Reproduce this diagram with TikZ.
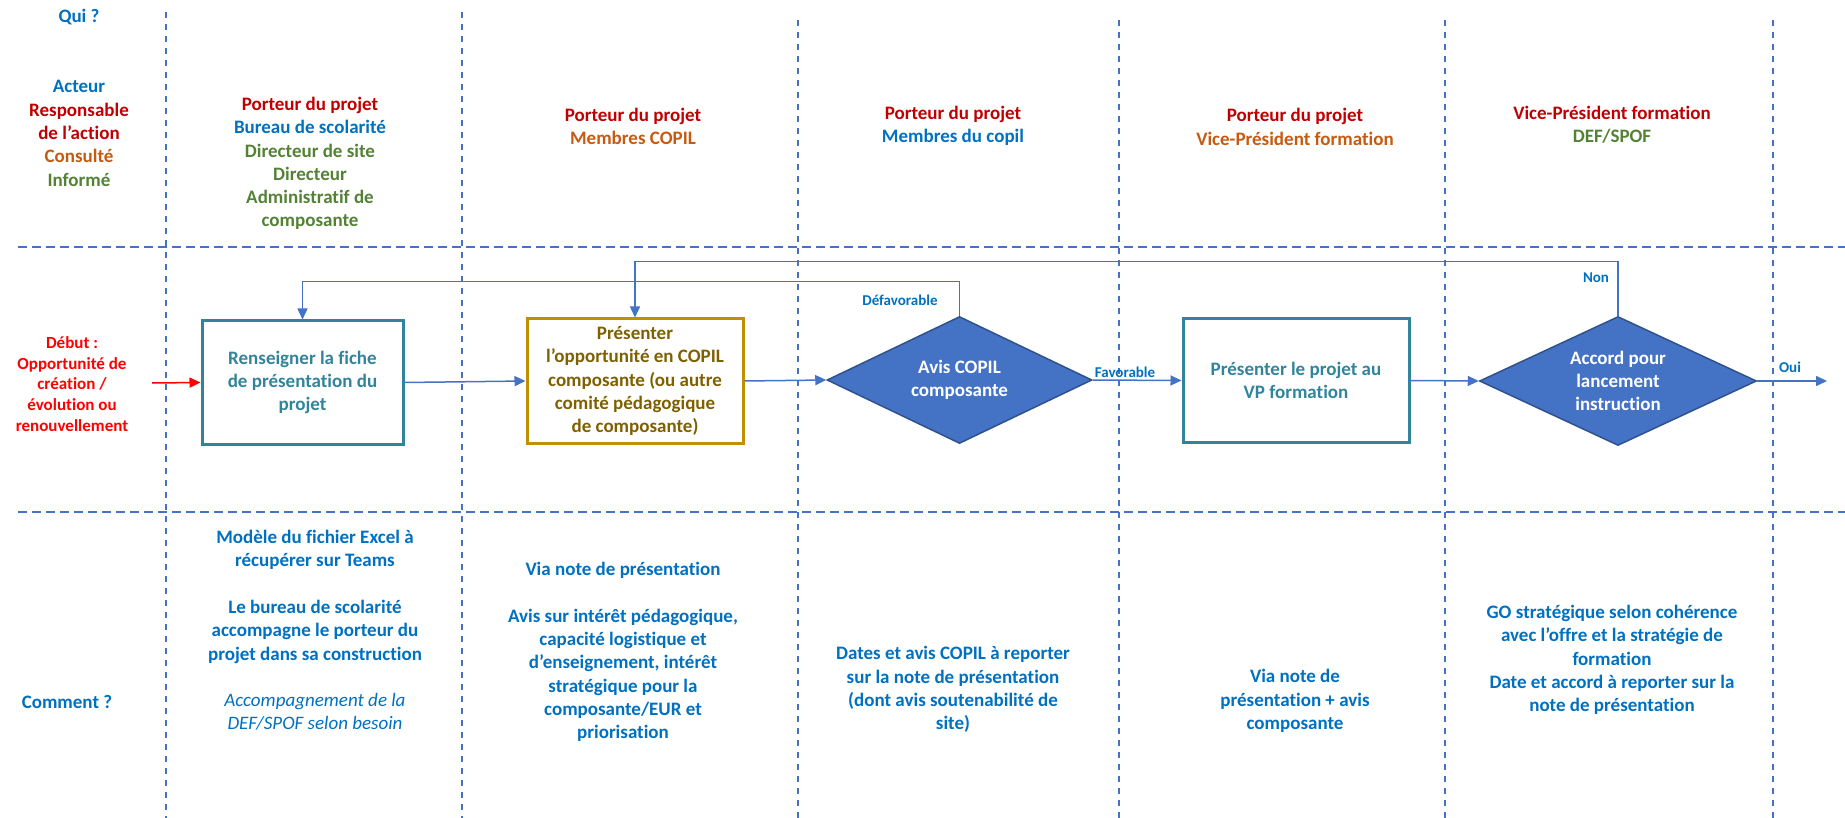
\documentclass[tikz,border=0pt]{standalone}
\usepackage{fontspec}
\setmainfont{Carlito}[Ligatures={NoCommon}]
\usetikzlibrary{arrows.meta,shapes.geometric}
\definecolor{qblue}{HTML}{0070C0}
\definecolor{dred}{HTML}{C00000}
\definecolor{bred}{HTML}{FF0000}
\definecolor{orng}{HTML}{C55A11}
\definecolor{grn}{HTML}{548235}
\definecolor{tealc}{HTML}{31849B}
\definecolor{goldb}{HTML}{BF9000}
\definecolor{goldt}{HTML}{7F6000}
\definecolor{lblue}{HTML}{4472C4}
\definecolor{dblue}{HTML}{2F528F}
\begin{document}
\begin{tikzpicture}[x=1pt,y=-1pt,
  txt/.style={align=center, font=\fontsize{19}{23.3}\selectfont\bfseries, inner sep=0pt},
  lbl/.style={font=\fontsize{15}{18}\selectfont\bfseries, text=qblue, inner sep=0pt},
  hgrid/.style={draw=lblue, line width=2pt, dash pattern=on 9pt off 5pt},
  vgrid/.style={draw=lblue, line width=2pt, dash pattern=on 6pt off 6pt},
  conn/.style={draw=lblue, line width=1.5pt, -{Triangle[length=11pt,width=10pt]}},
  tealbox/.style={txt, draw=tealc, line width=3pt, text=tealc},
  goldbox/.style={txt, draw=goldb, line width=3pt, text=goldt},
  decision/.style={txt, diamond, aspect=2.1, fill=lblue, draw=dblue, line width=1.5pt, text=white}
]
\useasboundingbox (0,0) rectangle (1845,818);
% grid
\draw[hgrid] (18,247) -- (1845,247);
\draw[hgrid] (18,512) -- (1845,512);
\draw[vgrid] (166,12) -- (166,818);
\draw[vgrid] (462,12) -- (462,818);
\draw[vgrid] (798,20) -- (798,818);
\draw[vgrid] (1119,20) -- (1119,818);
\draw[vgrid] (1445,20) -- (1445,818);
\draw[vgrid] (1773,20) -- (1773,818);

% top row
\node[txt, text=qblue] (qui) at (79,17) {Qui ?};
\node[txt] (roles) at (79,133.5) {\textcolor{qblue}{Acteur}\\\textcolor{dred}{Responsable}\\\textcolor{dred}{de l’action}\\\textcolor{orng}{Consulté}\\\textcolor{grn}{Informé}};
\node[txt] (t1) at (310,163.5) {\textcolor{dred}{Porteur du projet}\\\textcolor{qblue}{Bureau de scolarité}\\\textcolor{grn}{Directeur de site}\\\textcolor{grn}{Directeur}\\\textcolor{grn}{Administratif de}\\\textcolor{grn}{composante}};
\node[txt] (t2) at (633,126.5) {\textcolor{dred}{Porteur du projet}\\\textcolor{orng}{Membres COPIL}};
\node[txt] (t3) at (953,125.5) {\textcolor{dred}{Porteur du projet}\\\textcolor{qblue}{Membres du copil}};
\node[txt] (t4) at (1295,127) {\textcolor{dred}{Porteur du projet}\\\textcolor{orng}{Vice-Président formation}};
\node[txt] (t5) at (1612,124.5) {\textcolor{dred}{Vice-Président formation}\\\textcolor{grn}{DEF/SPOF}};

% middle row
\node[txt, font=\fontsize{17}{20.7}\selectfont\bfseries, text=bred] (debut) at (72,384) {Début :\\Opportunité de\\création /\\évolution ou\\renouvellement};
\coordinate (start) at (152,383);
\node[tealbox, minimum width=201pt, minimum height=123pt] (b1) at (302.5,382.5) {Renseigner la fiche\\de présentation du\\projet};
\node[goldbox, minimum width=216pt, minimum height=124pt] (b2) at (635,381) {Présenter\\l’opportunité en COPIL\\composante (ou autre\\comité pédagogique\\de composante)};
\node[decision, minimum width=265pt, minimum height=127pt] (d1) at (959.5,380) {Avis COPIL\\composante};
\node[tealbox, minimum width=226pt, minimum height=123pt] (b3) at (1296,380.5) {Présenter le projet au\\VP formation};
\node[decision, minimum width=277pt, minimum height=129pt] (d2) at (1618,381) {Accord pour\\lancement\\instruction};
\coordinate (fin) at (1827,381);

\draw[conn, draw=bred, fill=bred] (start) -- (b1.west);
\draw[conn] (b1.east) -- (b2.west);
\draw[conn] (b2.east) -- (d1.west);
\draw[conn] (d1.east) -- (b3.west);
\draw[conn] (b3.east) -- (d2.west);
\draw[conn] (d2.east) -- (fin);
\draw[conn] (d1.north) -- ++(0,-34) -| (b1.north);
\draw[conn] (d2.north) -- ++(0,-54) -| (b2.north);

\node[lbl] (ldef) at (900,300) {Défavorable};
\node[lbl] (lfav) at (1125,372) {Favorable};
\node[lbl] (lnon) at (1596,278) {Non};
\node[lbl] (loui) at (1790,367) {Oui};

% bottom row
\node[txt, text=qblue] (comment) at (67,702) {Comment ?};
\node[txt, text=qblue] (c1) at (315,630.5) {Modèle du fichier Excel à\\récupérer sur Teams\\[23.3pt]Le bureau de scolarité\\accompagne le porteur du\\projet dans sa construction\\[23.3pt]\mdseries\itshape Accompagnement de la\\\mdseries\itshape DEF/SPOF selon besoin};
\node[txt, text=qblue] (c2) at (623,652) {Via note de présentation\\[23.3pt]Avis sur intérêt pédagogique,\\capacité logistique et\\d’enseignement, intérêt\\stratégique pour la\\composante/EUR et\\priorisation};
\node[txt, text=qblue] (c3) at (953,689.5) {Dates et avis COPIL à reporter\\sur la note de présentation\\(dont avis soutenabilité de\\site)};
\node[txt, text=qblue] (c4) at (1295,701) {Via note de\\présentation + avis\\composante};
\node[txt, text=qblue] (c5) at (1612,660) {GO stratégique selon cohérence\\avec l’offre et la stratégie de\\formation\\Date et accord à reporter sur la\\note de présentation};
\end{tikzpicture}
\end{document}
